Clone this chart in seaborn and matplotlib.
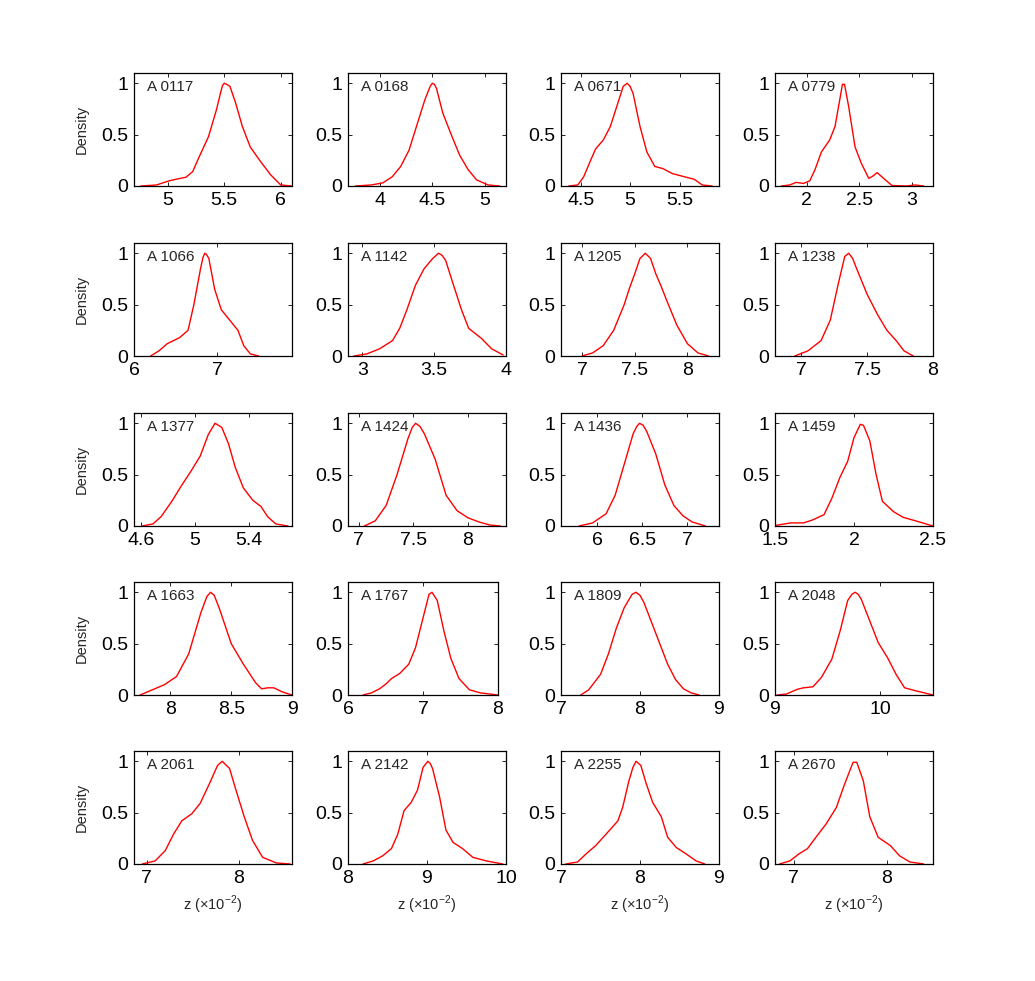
import matplotlib
matplotlib.use("Agg")
import matplotlib.pyplot as plt
import seaborn as sns

# panel names, one per subplot (row by row)
names = ["A 0117", "A 0168", "A 0671", "A 0779",
         "A 1066", "A 1142", "A 1205", "A 1238",
         "A 1377", "A 1424", "A 1436", "A 1459",
         "A 1663", "A 1767", "A 1809", "A 2048",
         "A 2061", "A 2142", "A 2255", "A 2670"]

# x ranges and ticks (z in units of 1e-2)
xlims = [(4.7, 6.1), (3.7, 5.2), (4.3, 5.9), (1.7, 3.2),
         (6.0, 7.9), (2.9, 4.0), (6.8, 8.3), (6.8, 8.0),
         (4.55, 5.72), (6.9, 8.35), (5.6, 7.35), (1.5, 2.5),
         (7.7, 9.0), (6.0, 8.0), (7.0, 9.0), (9.0, 10.5),
         (6.86, 8.58), (8.0, 10.0), (7.0, 9.0), (6.8, 8.5)]
xticks = [[5, 5.5, 6], [4, 4.5, 5], [4.5, 5, 5.5], [2, 2.5, 3],
          [6, 7], [3, 3.5, 4], [7, 7.5, 8], [7, 7.5, 8],
          [4.6, 5, 5.4], [7, 7.5, 8], [6, 6.5, 7], [1.5, 2, 2.5],
          [8, 8.5, 9], [6, 7, 8], [7, 8, 9], [9, 10],
          [7, 8], [8, 9, 10], [7, 8, 9], [7, 8]]

# normalised density curves
x_0117 = [4.76, 4.90, 5.01, 5.09, 5.16, 5.22, 5.28, 5.36, 5.43, 5.47, 5.485, 5.50, 5.52, 5.55, 5.60, 5.66, 5.73, 5.82, 5.91, 6.00, 6.10]
y_0117 = [0, 0.01, 0.05, 0.07, 0.085, 0.14, 0.29, 0.48, 0.74, 0.92, 0.98, 1.0, 0.99, 0.97, 0.81, 0.58, 0.38, 0.24, 0.11, 0.01, 0]
x_0168 = [3.77, 3.92, 4.03, 4.12, 4.20, 4.28, 4.35, 4.43, 4.48, 4.50, 4.52, 4.54, 4.60, 4.68, 4.76, 4.84, 4.92, 5.03, 5.14]
y_0168 = [0, 0.01, 0.03, 0.09, 0.19, 0.35, 0.58, 0.84, 0.97, 1.0, 0.99, 0.95, 0.71, 0.50, 0.30, 0.16, 0.06, 0.01, 0]
x_0671 = [4.38, 4.47, 4.53, 4.60, 4.65, 4.73, 4.80, 4.87, 4.93, 4.97, 5.00, 5.03, 5.10, 5.17, 5.25, 5.33, 5.43, 5.57, 5.65, 5.73, 5.83]
y_0671 = [0, 0.01, 0.09, 0.25, 0.36, 0.45, 0.58, 0.79, 0.97, 1.0, 0.97, 0.90, 0.58, 0.33, 0.19, 0.17, 0.12, 0.085, 0.065, 0.01, 0]
x_0779 = [1.76, 1.84, 1.90, 1.97, 2.03, 2.08, 2.14, 2.22, 2.27, 2.32, 2.34, 2.36, 2.40, 2.46, 2.52, 2.59, 2.62, 2.67, 2.73, 2.81, 2.95, 3.03, 3.11]
y_0779 = [0, 0.01, 0.035, 0.025, 0.05, 0.16, 0.33, 0.45, 0.58, 0.87, 0.99, 0.99, 0.77, 0.38, 0.22, 0.075, 0.09, 0.13, 0.075, 0.005, 0, 0.01, 0]

x_1066 = [6.20, 6.30, 6.40, 6.55, 6.65, 6.72, 6.80, 6.83, 6.85, 6.87, 6.90, 6.97, 7.05, 7.15, 7.25, 7.32, 7.40, 7.50]
y_1066 = [0, 0.05, 0.12, 0.18, 0.25, 0.50, 0.85, 0.96, 1.0, 0.99, 0.95, 0.65, 0.45, 0.35, 0.25, 0.10, 0.02, 0]
x_1142 = [2.94, 3.03, 3.12, 3.21, 3.26, 3.31, 3.37, 3.43, 3.49, 3.53, 3.555, 3.58, 3.63, 3.69, 3.74, 3.83, 3.90, 3.98]
y_1142 = [0, 0.02, 0.07, 0.15, 0.27, 0.45, 0.69, 0.85, 0.95, 1.0, 0.98, 0.93, 0.71, 0.45, 0.27, 0.17, 0.07, 0.01]
x_1205 = [7.0, 7.1, 7.2, 7.3, 7.4, 7.45, 7.5, 7.55, 7.6, 7.65, 7.7, 7.75, 7.8, 7.9, 8.0, 8.1, 8.2]
y_1205 = [0, 0.03, 0.10, 0.25, 0.50, 0.66, 0.80, 0.95, 1.0, 0.95, 0.80, 0.68, 0.55, 0.30, 0.12, 0.03, 0]
x_1238 = [6.95, 7.05, 7.15, 7.22, 7.28, 7.33, 7.36, 7.39, 7.42, 7.50, 7.58, 7.65, 7.72, 7.78, 7.85]
y_1238 = [0, 0.05, 0.15, 0.35, 0.70, 0.97, 1.0, 0.95, 0.85, 0.60, 0.40, 0.25, 0.15, 0.05, 0]

x_1377 = [4.61, 4.69, 4.75, 4.83, 4.90, 4.97, 5.04, 5.10, 5.15, 5.20, 5.25, 5.30, 5.36, 5.43, 5.49, 5.54, 5.60, 5.69]
y_1377 = [0, 0.02, 0.09, 0.24, 0.39, 0.53, 0.68, 0.89, 1.0, 0.96, 0.80, 0.57, 0.37, 0.25, 0.19, 0.09, 0.02, 0]
x_1424 = [7.05, 7.15, 7.25, 7.35, 7.45, 7.49, 7.52, 7.56, 7.60, 7.7, 7.8, 7.9, 8.0, 8.1, 8.2, 8.3]
y_1424 = [0, 0.05, 0.20, 0.50, 0.85, 0.96, 1.0, 0.97, 0.90, 0.65, 0.30, 0.15, 0.08, 0.04, 0.01, 0]
x_1436 = [5.8, 5.95, 6.1, 6.2, 6.3, 6.4, 6.44, 6.47, 6.51, 6.55, 6.65, 6.75, 6.85, 6.95, 7.05, 7.2]
y_1436 = [0, 0.03, 0.12, 0.30, 0.60, 0.90, 0.97, 1.0, 0.98, 0.92, 0.70, 0.40, 0.20, 0.10, 0.04, 0]
x_1459 = [1.50, 1.60, 1.68, 1.74, 1.81, 1.86, 1.91, 1.96, 2.00, 2.04, 2.06, 2.10, 2.14, 2.18, 2.25, 2.31, 2.39, 2.50]
y_1459 = [0.005, 0.03, 0.03, 0.06, 0.11, 0.27, 0.47, 0.63, 0.86, 0.99, 0.98, 0.83, 0.50, 0.24, 0.14, 0.085, 0.05, 0]

x_1663 = [7.75, 7.85, 7.95, 8.05, 8.15, 8.25, 8.30, 8.33, 8.36, 8.4, 8.5, 8.6, 8.7, 8.75, 8.8, 8.85, 8.92, 9.0]
y_1663 = [0, 0.05, 0.10, 0.18, 0.40, 0.80, 0.96, 1.0, 0.97, 0.85, 0.50, 0.30, 0.12, 0.06, 0.07, 0.07, 0.03, 0]
x_1767 = [6.20, 6.31, 6.42, 6.51, 6.58, 6.69, 6.81, 6.90, 6.99, 7.08, 7.12, 7.19, 7.28, 7.37, 7.48, 7.62, 7.77, 8.0]
y_1767 = [0, 0.02, 0.06, 0.11, 0.16, 0.21, 0.30, 0.46, 0.72, 0.98, 1.0, 0.92, 0.62, 0.36, 0.16, 0.05, 0.02, 0]
x_1809 = [7.25, 7.35, 7.5, 7.6, 7.7, 7.8, 7.9, 7.95, 8.0, 8.05, 8.15, 8.25, 8.35, 8.45, 8.55, 8.65, 8.75]
y_1809 = [0, 0.05, 0.20, 0.40, 0.65, 0.85, 0.98, 1.0, 0.97, 0.90, 0.70, 0.50, 0.30, 0.15, 0.06, 0.02, 0]
x_2048 = [9.02, 9.11, 9.21, 9.27, 9.36, 9.44, 9.54, 9.62, 9.69, 9.73, 9.76, 9.79, 9.82, 9.90, 9.98, 10.07, 10.15, 10.23, 10.34, 10.5]
y_2048 = [0, 0.01, 0.055, 0.07, 0.08, 0.17, 0.35, 0.63, 0.92, 0.98, 1.0, 0.98, 0.93, 0.72, 0.51, 0.36, 0.20, 0.07, 0.04, 0]

x_2061 = [6.95, 7.09, 7.20, 7.29, 7.38, 7.49, 7.58, 7.68, 7.77, 7.82, 7.90, 7.97, 8.06, 8.15, 8.26, 8.41, 8.56]
y_2061 = [0, 0.03, 0.13, 0.29, 0.42, 0.49, 0.59, 0.78, 0.96, 1.0, 0.93, 0.72, 0.46, 0.23, 0.065, 0.01, 0]
x_2142 = [8.19, 8.32, 8.44, 8.55, 8.63, 8.71, 8.80, 8.88, 8.95, 9.01, 9.04, 9.07, 9.16, 9.24, 9.33, 9.45, 9.58, 9.75, 9.96]
y_2142 = [0, 0.03, 0.08, 0.15, 0.29, 0.52, 0.60, 0.72, 0.94, 1.0, 0.98, 0.93, 0.65, 0.33, 0.21, 0.15, 0.065, 0.03, 0]
x_2255 = [7.06, 7.21, 7.32, 7.44, 7.57, 7.72, 7.78, 7.86, 7.91, 7.95, 8.01, 8.08, 8.16, 8.27, 8.35, 8.46, 8.58, 8.71, 8.82]
y_2255 = [0, 0.02, 0.10, 0.18, 0.29, 0.42, 0.55, 0.81, 0.94, 1.0, 0.96, 0.78, 0.60, 0.46, 0.26, 0.16, 0.10, 0.03, 0]
x_2670 = [6.85, 6.96, 7.06, 7.15, 7.24, 7.35, 7.46, 7.55, 7.64, 7.68, 7.75, 7.82, 7.91, 8.04, 8.14, 8.25, 8.40]
y_2670 = [0, 0.03, 0.10, 0.15, 0.26, 0.39, 0.55, 0.78, 0.99, 0.99, 0.81, 0.46, 0.26, 0.18, 0.08, 0.02, 0]

curves_x = [x_0117, x_0168, x_0671, x_0779, x_1066, x_1142, x_1205, x_1238,
            x_1377, x_1424, x_1436, x_1459, x_1663, x_1767, x_1809, x_2048,
            x_2061, x_2142, x_2255, x_2670]
curves_y = [y_0117, y_0168, y_0671, y_0779, y_1066, y_1142, y_1205, y_1238,
            y_1377, y_1424, y_1436, y_1459, y_1663, y_1767, y_1809, y_2048,
            y_2061, y_2142, y_2255, y_2670]

sns.set_style("ticks")
plt.rcParams["font.family"] = ["Liberation Sans", "DejaVu Sans"]
plt.rcParams["mathtext.fontset"] = "custom"
plt.rcParams["mathtext.rm"] = "Liberation Sans"

W, H = 1035, 981
fig = plt.figure(figsize=(W / 100, H / 100), dpi=100)

col_left = [134, 348, 561, 775]
row_top = [73, 243, 413, 582, 751]
ax_h = 113

for i, name in enumerate(names):
    r, c = divmod(i, 4)
    ax_w = 150 if name == "A 1767" else 158
    ax = fig.add_axes([col_left[c] / W, 1 - (row_top[r] + ax_h) / H, ax_w / W, ax_h / H])
    sns.lineplot(x=curves_x[i], y=curves_y[i], ax=ax, color="#ff0000", lw=1.0)
    ax.set_xlim(*xlims[i])
    ax.set_ylim(0, 1.1)
    ax.set_xticks(xticks[i])
    ax.set_xticklabels([f"{t:g}" for t in xticks[i]])
    ax.set_yticks([0, 0.5, 1])
    ax.set_yticklabels(["0", "0.5", "1"])
    ax.tick_params(direction="in", length=3, width=0.6, top=True, right=True,
                   labelsize=14, pad=4, colors="black")
    for sp in ax.spines.values():
        sp.set_linewidth(0.9)
        sp.set_color("black")
    ax.text(0.085 * 158 / ax_w, 0.94, name, transform=ax.transAxes, ha="left", va="top", fontsize=11)
    if c == 0:
        ax.set_ylabel("Density", fontsize=10.5, labelpad=9)
    else:
        ax.set_ylabel("")
    if r == 4:
        ax.set_xlabel(r"z ($\times10^{-2}$)", fontsize=10.5, labelpad=5)
    else:
        ax.set_xlabel("")

fig.savefig("out.png", dpi=100)
